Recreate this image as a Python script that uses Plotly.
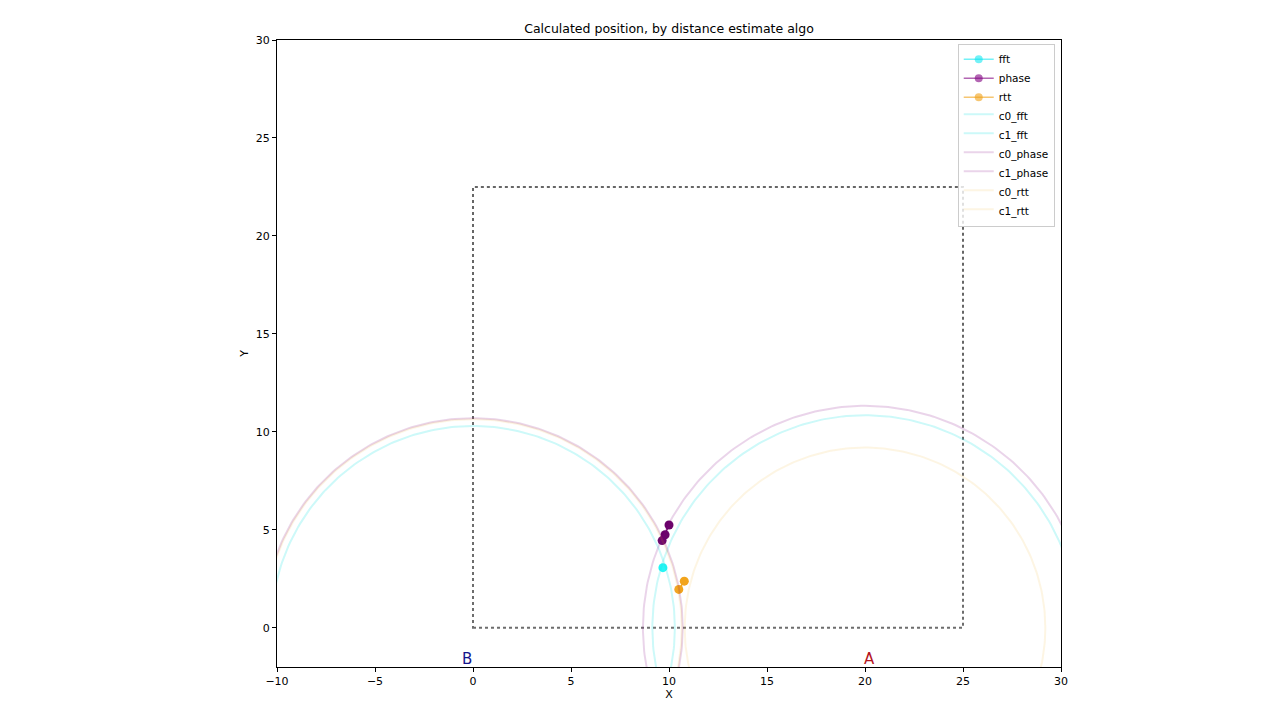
import numpy as np
import plotly.graph_objects as go

# ---- data ----
algos = ["fft", "phase", "rtt"]
point_x = {"fft": [9.69], "phase": [10.0, 9.8, 9.65], "rtt": [10.78, 10.5]}
point_y = {"fft": [3.07], "phase": [5.25, 4.75, 4.45], "rtt": [2.38, 1.96]}
algo_colors = {"fft": "rgb(20,245,245)", "phase": "rgb(105,0,105)", "rtt": "rgb(242,162,20)"}
legend_colors = {"fft": "rgba(0,230,240,0.55)", "phase": "rgba(128,0,128,0.6)", "rtt": "rgba(240,160,20,0.6)"}
circle_line_colors = {"fft": "rgba(0,225,225,0.2)", "phase": "rgba(128,0,128,0.17)", "rtt": "rgba(240,165,0,0.11)"}

anchor_names = ["B", "A"]
anchor_x = [0.0, 20.0]
anchor_y = [0.0, 0.0]
anchor_colors = ["#14148c", "#b4141e"]

# radii: c0 around B (0,0), c1 around A (20,0)
radii = {
    "fft": [10.3, 10.85],
    "phase": [10.7, 11.33],
    "rtt": [10.65, 9.2],
}

area_x = [0, 25]
area_y = [0, 22.5]

x_range = [-10, 30]
y_range = [-2, 30]
x_ticks = [-10, -5, 0, 5, 10, 15, 20, 25, 30]
y_ticks = [0, 5, 10, 15, 20, 25, 30]

FONT = "DejaVu Sans"
W, H = 1264, 704

fig = go.Figure()

for a in algos:
    fig.add_trace(go.Scatter(
        x=point_x[a], y=point_y[a], mode="lines+markers",
        line=dict(color=algo_colors[a], width=1.5),
        marker=dict(color=algo_colors[a], size=9),
        name=a, legendgroup=a, showlegend=False,
    ))
    fig.add_trace(go.Scatter(
        x=[None], y=[None], mode="lines+markers",
        line=dict(color=legend_colors[a], width=1.5),
        marker=dict(color=legend_colors[a], size=8),
        name=a, legendgroup=a, showlegend=True,
    ))

theta = np.linspace(0, 2 * np.pi, 361)
for a in algos:
    for i in range(2):
        r = radii[a][i]
        cx, cy = anchor_x[i], anchor_y[i]
        fig.add_trace(go.Scatter(
            x=cx + r * np.cos(theta), y=cy + r * np.sin(theta),
            mode="lines", fill="toself", fillcolor="rgba(255,255,255,0.02)",
            line=dict(color=circle_line_colors[a], width=2),
            name=f"c{i}_{a}", hoverinfo="skip",
        ))

fig.add_shape(type="rect", xref="x", yref="y",
              x0=area_x[0], x1=area_x[1], y0=area_y[0], y1=area_y[1],
              line=dict(color="#666666", width=2, dash="dot"), layer="below")

offsets = [-0.3, 0.25]
for name, ax_, col, off in zip(anchor_names, anchor_x, anchor_colors, offsets):
    fig.add_annotation(x=ax_ + off, y=y_range[0], xref="x", yref="y",
                       text=name, showarrow=False, yanchor="bottom", yshift=-3,
                       font=dict(family=FONT, size=15, color=col))

axis_common = dict(showline=True, linecolor="black", linewidth=1, mirror=True,
                   ticks="outside", ticklen=4, tickcolor="black", showgrid=False,
                   zeroline=False, tickfont=dict(family=FONT, size=11, color="black"))

fig.update_layout(
    width=W, height=H,
    margin=dict(l=269, r=211, t=32, b=45),
    paper_bgcolor="white", plot_bgcolor="white",
    title=dict(text="Calculated position, by distance estimate algo", x=0.5, xref="paper",
               xanchor="center", y=1 - 21 / H, yanchor="middle",
               font=dict(family=FONT, size=12.5, color="black")),
    xaxis=dict(range=x_range, tickvals=x_ticks, ticktext=[("−" + str(-t)) if t < 0 else str(t) for t in x_ticks],
               title=dict(text="X", font=dict(family=FONT, size=11, color="black"), standoff=1),
               **axis_common),
    yaxis=dict(range=y_range, tickvals=y_ticks,
               title=dict(text="Y", font=dict(family=FONT, size=11, color="black"), standoff=4),
               **axis_common),
    legend=dict(x=0.992, y=0.994, xanchor="right", yanchor="top",
                bgcolor="rgba(255,255,255,0.8)", bordercolor="#cccccc", borderwidth=1,
                font=dict(family=FONT, size=10.5, color="black"), tracegroupgap=0,
                itemwidth=30),
    showlegend=True,
)

fig.write_html("out.html")
